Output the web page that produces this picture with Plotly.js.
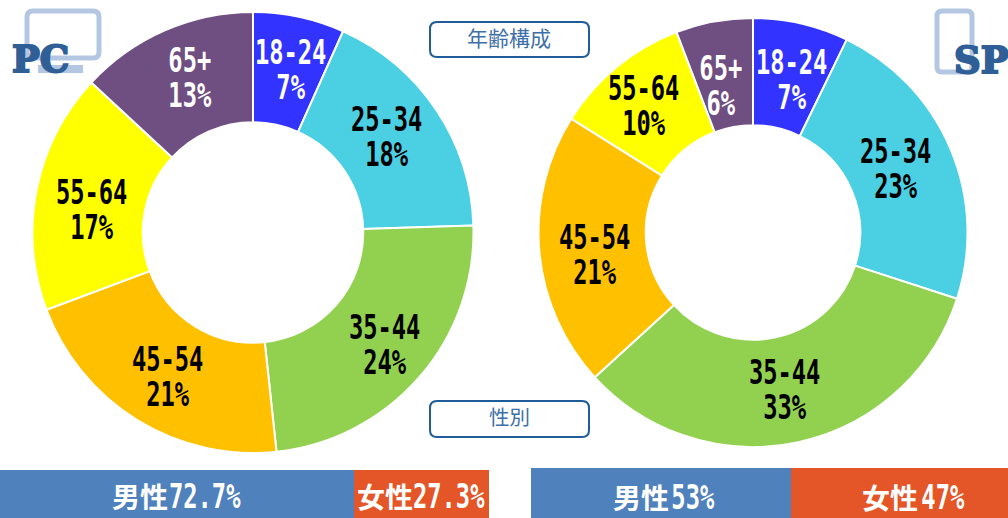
<!DOCTYPE html>
<html><head><meta charset="utf-8">
<script src="https://cdn.plot.ly/plotly-3.0.1.min.js"></script>
<style>html,body{margin:0;padding:0;background:#fff;overflow:hidden}#c{width:1008px;height:518px}</style>
</head><body><div id="c"></div>
<script>
const ageLabels = ['18-24','25-34','35-44','45-54','55-64','65+'];
const pcValues = [6.7,17.8,23.8,21.0,17.6,13.1];
const pcText = ['7%','18%','24%','21%','17%','13%'];
const spValues = [7.2,22.8,33.2,20.7,10.3,5.8];
const spText = ['7%','23%','33%','21%','10%','6%'];
const ageColors = ['#3333FF','#4BCFE3','#92D050','#FFC000','#FFFF00','#6F4E82'];
const ageTextColors = ['#fff','#000','#000','#000','#000','#fff'];
const genderNames = ['男性','女性'];
const pcGender = [72.3,27.7];
const pcGenderText = ['72.7%','27.3%'];
const spGender = [54.6,45.4];
const spGenderText = ['53%','47%'];
const genderColors = ['#4F81BD','#E45528'];

const W=1008,H=518;
const fx=x=>x/W, fy=y=>1-y/H;
const MONO='"DejaVu Sans Mono","Liberation Mono",monospace';
const CJK='"Noto Sans CJK JP",sans-serif';
const pcSpots=[[290,70],[386,137],[384,345],[167,377],[91,210],[190,78]];
const spSpots=[[791,80],[895,169],[784,390],[594,255],[643,106],[721,86]];

function pie(values,cx,cy,r){
  return {type:'pie',sort:false,direction:'clockwise',rotation:0,hole:0.5,
    labels:ageLabels,values:values,textinfo:'none',
    marker:{colors:ageColors,line:{color:'#fff',width:2}},
    domain:{x:[fx(cx-r),fx(cx+r)],y:[fy(cy+r),fy(cy-r)]},
    showlegend:false,hoverinfo:'skip'};
}
function bars(vals,xa,ya){
  return vals.map((v,i)=>({type:'bar',orientation:'h',x:[v],y:['g'],xaxis:xa,yaxis:ya,
    marker:{color:genderColors[i],line:{width:0}},showlegend:false,hoverinfo:'skip'}));
}
function rr(x0,y0,x1,y1,r){
  const X=fx,Y=fy;
  return 'M'+X(x0+r)+','+Y(y0)+' L'+X(x1-r)+','+Y(y0)+' Q'+X(x1)+','+Y(y0)+' '+X(x1)+','+Y(y0+r)+
    ' L'+X(x1)+','+Y(y1-r)+' Q'+X(x1)+','+Y(y1)+' '+X(x1-r)+','+Y(y1)+
    ' L'+X(x0+r)+','+Y(y1)+' Q'+X(x0)+','+Y(y1)+' '+X(x0)+','+Y(y1-r)+
    ' L'+X(x0)+','+Y(y0+r)+' Q'+X(x0)+','+Y(y0)+' '+X(x0+r)+','+Y(y0)+' Z';
}
const box=(a,b,c,d,r)=>({type:'path',xref:'paper',yref:'paper',path:rr(a,b,c,d,r),line:{color:'#1F5C99',width:2},fillcolor:'#fff',layer:'above'});
const icon=(a,b,c,d,r,w)=>({type:'path',xref:'paper',yref:'paper',path:rr(a,b,c,d,r),line:{color:'#B3C7E3',width:w},fillcolor:'rgba(0,0,0,0)',layer:'above'});
const iconFill=(a,b,c,d)=>({type:'rect',xref:'paper',yref:'paper',x0:fx(a),x1:fx(c),y0:fy(d),y1:fy(b),line:{width:0},fillcolor:'#B3C7E3',layer:'above'});

function note(text,x,y,size,color,family,weight){
  return {xref:'paper',yref:'paper',x:fx(x),y:fy(y),xanchor:'center',yanchor:'middle',showarrow:false,
    text:text,font:{family:family,size:size,color:color,weight:weight||400}};
}
function ageNotes(texts,spots){
  return ageLabels.map((l,i)=>note(l+'<br>'+texts[i],spots[i][0],spots[i][1],33,ageTextColors[i],MONO,700));
}
function genderNotes(name,num,xName,xNum,y){
  return [note(name,xName,y,28,'#fff',CJK,700),note(num,xNum,y,33,'#fff',MONO,700)];
}

const layout={width:W,height:H,margin:{l:0,r:0,t:0,b:0},paper_bgcolor:'#fff',plot_bgcolor:'#fff',
  barmode:'stack',bargap:0,
  xaxis:{domain:[0,fx(489)],range:[0,100],visible:false,fixedrange:true},
  yaxis:{domain:[0,48/H],visible:false,fixedrange:true},
  xaxis2:{domain:[fx(531),1],range:[0,100],visible:false,fixedrange:true},
  yaxis2:{domain:[0,50/H],visible:false,fixedrange:true},
  shapes:[
    box(430,22,589,57,7),box(430,401,589,437,7),
    icon(27,11,99,58,6,5),iconFill(38,65,83,73),
    icon(937,11,972,72,5,5)
  ],
  annotations:[
    note('年齢構成',509,37,21,'#3E6FA8',CJK),
    note('性別',509,416,20.5,'#3E6FA8',CJK),
    note('PC',40,59,37,'#2F5F96','"DejaVu Serif","Liberation Serif",serif',700),
    note('SP',981,60,37,'#2F5F96','"DejaVu Serif","Liberation Serif",serif',700)
  ].concat(
    genderNotes(genderNames[0],pcGenderText[0],140,204,496),
    genderNotes(genderNames[1],pcGenderText[1],385,448,496),
    genderNotes(genderNames[0],spGenderText[0],641,693,497),
    genderNotes(genderNames[1],spGenderText[1],890,943,497),
    ageNotes(pcText,pcSpots),ageNotes(spText,spSpots))};
const data=[pie(pcValues,253,232.5,220.5),pie(spValues,753,232.5,214.5)]
  .concat(bars(pcGender,'x','y'),bars(spGender,'x2','y2'));
Plotly.newPlot('c',data,layout,{staticPlot:true,displayModeBar:false}).then(()=>{
  document.querySelectorAll('.annotation-text').forEach(t=>{
    const s=t.textContent;
    if(s==='PC'||s==='SP'){t.style.stroke='#2F5F96';t.style.strokeWidth='2px';return;}
    if(/[^0-9.%+\-]/.test(s))return;
    const lines=t.querySelectorAll('.line');
    const two=lines.length>1;
    const b=t.getBBox(),cx=b.x+b.width/2;
    if(two)lines[1].setAttribute('dy','35');
    const dy=two?4:0;
    t.setAttribute('transform','translate('+cx+','+dy+') scale(0.72,1) translate('+(-cx)+',0)');
  });
});
</script></body></html>
